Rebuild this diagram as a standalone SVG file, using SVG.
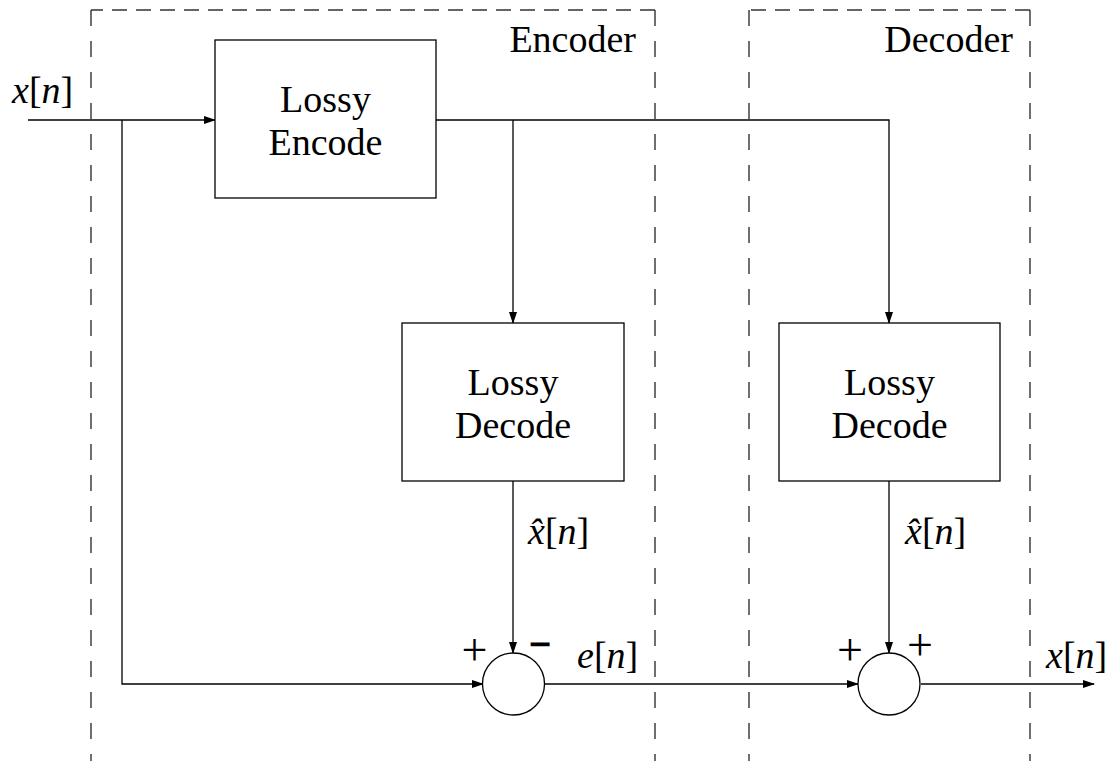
<svg xmlns="http://www.w3.org/2000/svg" width="1112" height="761" viewBox="0 0 1112 761">
  <defs>
    <marker id="arr" markerWidth="12" markerHeight="8" refX="11" refY="4" orient="auto" markerUnits="userSpaceOnUse">
      <path d="M0,0 L12,4 L0,8 Z" fill="#000"/>
    </marker>
    <style>
      .t { font-family: "Liberation Serif", "Times New Roman", serif; font-size: 38px; fill: #000; }
      .c { text-anchor: middle; }
      .i { font-style: italic; }
      .sign { font-size: 46px; }
      .box { fill: #fff; stroke: #000; stroke-width: 1.3; }
      .wire { fill: none; stroke: #000; stroke-width: 1.3; }
      .dh { fill: none; stroke: #333; stroke-width: 1.3; stroke-dasharray: 15 9; }
      .dv { fill: none; stroke: #222; stroke-width: 1.3; stroke-dasharray: 16 15; }
    </style>
  </defs>
  <rect width="1112" height="761" fill="#fff"/>

  <!-- encoder / decoder regions -->
  <g id="region-encoder">
    <path class="dh" d="M655,10 H91"/>
    <path class="dv" d="M91,10 V761"/>
    <path class="dv" d="M655,10 V761"/>
    <text class="t" x="636" y="52" text-anchor="end">Encoder</text>
  </g>
  <g id="region-decoder">
    <path class="dh" d="M1030,10 H749"/>
    <path class="dv" d="M749,10 V761"/>
    <path class="dv" d="M1030,10 V761"/>
    <text class="t" x="1013" y="52" text-anchor="end">Decoder</text>
  </g>

  <!-- connectors -->
  <g id="connectors">
    <path class="wire" d="M28,120 H215" marker-end="url(#arr)"/>
    <path class="wire" d="M122,120 V684 H483" marker-end="url(#arr)"/>
    <path class="wire" d="M436,120 H889 V323" marker-end="url(#arr)"/>
    <path class="wire" d="M513,120 V323" marker-end="url(#arr)"/>
    <path class="wire" d="M513,481 V653" marker-end="url(#arr)"/>
    <path class="wire" d="M889,481 V653" marker-end="url(#arr)"/>
    <path class="wire" d="M545,684 H858" marker-end="url(#arr)"/>
    <path class="wire" d="M921,684 H1094" marker-end="url(#arr)"/>
  </g>

  <!-- blocks -->
  <g id="lossy-encode">
    <rect class="box" x="215" y="40" width="221" height="158"/>
    <text class="t c" x="325.5" y="112">Lossy</text>
    <text class="t c" x="325.5" y="155">Encode</text>
  </g>
  <g id="lossy-decode-enc">
    <rect class="box" x="402" y="323" width="222" height="158"/>
    <text class="t c" x="513" y="395">Lossy</text>
    <text class="t c" x="513" y="438">Decode</text>
  </g>
  <g id="lossy-decode-dec">
    <rect class="box" x="779" y="323" width="221" height="158"/>
    <text class="t c" x="889.5" y="395">Lossy</text>
    <text class="t c" x="889.5" y="438">Decode</text>
  </g>

  <!-- summing junctions -->
  <g id="sum-enc">
    <circle class="box" cx="513.5" cy="684" r="31"/>
    <text class="t c sign" x="474.5" y="665">+</text>
    <text class="t c" x="540" y="657" font-size="40" font-weight="bold" stroke="#000" stroke-width="1.2">−</text>
  </g>
  <g id="sum-dec">
    <circle class="box" cx="889" cy="684" r="31"/>
    <text class="t c sign" x="850" y="665">+</text>
    <text class="t c sign" x="920" y="660">+</text>
  </g>

  <!-- signal labels -->
  <g id="labels">
    <text class="t" x="12" y="103"><tspan class="i">x</tspan>[<tspan class="i">n</tspan>]</text>
    <text class="t" x="528" y="544"><tspan class="i">x̂</tspan>[<tspan class="i">n</tspan>]</text>
    <text class="t" x="905" y="544"><tspan class="i">x̂</tspan>[<tspan class="i">n</tspan>]</text>
    <text class="t" x="577" y="668"><tspan class="i">e</tspan>[<tspan class="i">n</tspan>]</text>
    <text class="t" x="1046" y="668"><tspan class="i">x</tspan>[<tspan class="i">n</tspan>]</text>
  </g>
</svg>
